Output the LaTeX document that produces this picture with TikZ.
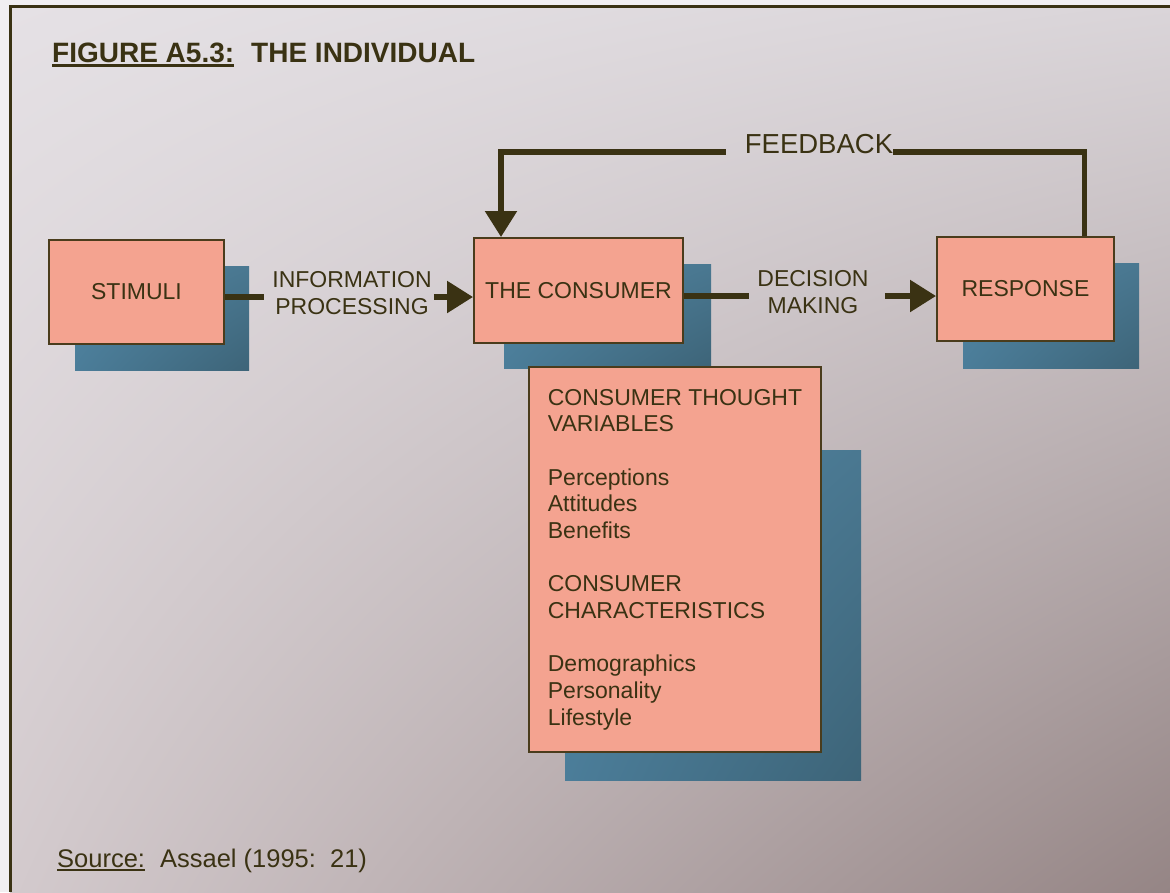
\documentclass[tikz,border=0pt]{standalone}
\usepackage{fontspec}
\setmainfont{Liberation Sans}
\usetikzlibrary{arrows.meta,shadings}

\definecolor{ink}{HTML}{3A3213}
\definecolor{boxfill}{HTML}{F4A390}
\definecolor{boxline}{HTML}{4A3C1C}
\definecolor{shadowA}{HTML}{5287A5}
\definecolor{shadowB}{HTML}{4A7891}
\definecolor{shadowC}{HTML}{4B7D99}
\definecolor{shadowD}{HTML}{3D6478}
\definecolor{pagebg}{HTML}{F1EFF1}
\definecolor{bgA}{HTML}{E5E1E5}
\definecolor{bgB}{HTML}{DAD5D9}
\definecolor{bgC}{HTML}{D3CACD}
\definecolor{bgD}{HTML}{958585}

% underlined text with a rule of given depth and thickness
\newcommand{\undl}[3]{\setbox0\hbox{#3}\rlap{\rule[-#1]{\wd0}{#2}}\box0}

\tikzset{
  box/.style={draw=boxline, line width=2pt, fill=boxfill, text=ink,
    font=\fontsize{23}{26.67}\selectfont, inner sep=0pt},
  lbl/.style={text=ink, font=\fontsize{23}{26.67}\selectfont, align=center, inner sep=0pt},
  link/.style={draw=ink, line width=5.5pt},
  arrow/.style={link, -{Triangle[length=26pt, width=31pt]}},
  shadowbox/.style={upper left=shadowA, upper right=shadowB, lower left=shadowC, lower right=shadowD}
}

\begin{document}
\begin{tikzpicture}[x=1pt, y=-1pt]
\useasboundingbox (0,0) rectangle (1170,892);

% paper and the framed panel
\fill[pagebg] (0,0) rectangle (1170,892);
\shade[upper left=bgA, upper right=bgB, lower left=bgC, lower right=bgD]
  (10,6.5) rectangle (1170,892);
\draw[draw=ink, line width=3.5pt] (10.5,892) -- (10.5,6.5) -- (1170,6.5);

% drop shadows behind the boxes
\shade[shadowbox] (75,266) rectangle (249,370);
\shade[shadowbox] (504,264) rectangle (711,368);
\shade[shadowbox] (963,263) rectangle (1139,368);
\shade[shadowbox] (565,450) rectangle (861,780);

% title
\node[anchor=base west, inner sep=0pt, text=ink, font=\bfseries\fontsize{28}{34}\selectfont]
  (title) at (52,62) {\undl{5pt}{2.6pt}{FIGURE A5.3:}\hspace{17pt}THE INDIVIDUAL};

% boxes
\node[box, minimum width=175pt, minimum height=104pt] (stimuli) at (136.5,292) {STIMULI};
\node[box, minimum width=209pt, minimum height=105pt] (consumer) at (578.5,290.5) {THE CONSUMER};
\node[box, minimum width=177pt, minimum height=104pt] (response) at (1025.5,289) {RESPONSE};
\node[box, align=left, minimum width=292pt, minimum height=385pt] (vars) at (675,559.5)
  {CONSUMER THOUGHT\\VARIABLES\\[26.67pt]
   Perceptions\\Attitudes\\Benefits\\[26.67pt]
   CONSUMER\\CHARACTERISTICS\\[26.67pt]
   Demographics\\Personality\\Lifestyle};

% connector labels
\node[lbl] (info) at (352,293) {INFORMATION\\PROCESSING};
\node[lbl] (decide) at (813,292) {DECISION\\MAKING};
\node[lbl, anchor=base, font=\fontsize{27.5}{32}\selectfont] (fb) at (819,153) {FEEDBACK};

% stimuli -> consumer
\draw[link, shorten >=8pt] ([yshift=-5pt]stimuli.east) -- ([yshift=-5pt]stimuli.east -| info.west);
\draw[arrow, shorten <=2pt] ([yshift=-6.5pt]consumer.west -| info.east) -- ([yshift=-6.5pt]consumer.west);

% consumer -> response
\draw[link, shorten >=8pt] ([yshift=-5.5pt]consumer.east) -- ([yshift=-5.5pt]consumer.east -| decide.west);
\draw[arrow, shorten <=16pt] ([yshift=-7pt]response.west -| decide.east) -- ([yshift=-7pt]response.west);

% feedback loop
\draw[link] ([xshift=59pt]response.north) |- ([yshift=1pt]fb.base east);
\draw[arrow, shorten <=19pt] ([yshift=1pt]fb.base west) -| ([xshift=-77.5pt]consumer.north);

% source line
\node[anchor=base west, inner sep=0pt, text=ink, font=\fontsize{25.5}{30}\selectfont]
  (src) at (57,867) {\undl{4pt}{2pt}{Source:}\hspace{15pt}Assael (1995:\ \ 21)};
\end{tikzpicture}
\end{document}
